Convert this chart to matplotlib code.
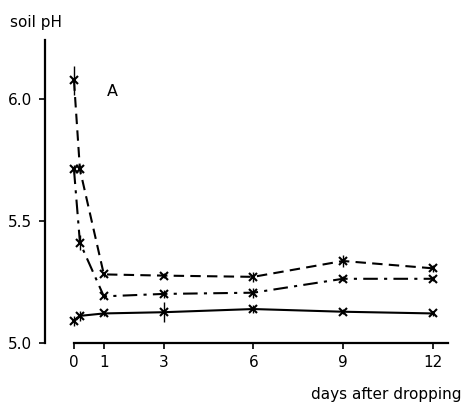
import numpy as np
import matplotlib.pyplot as plt

# sampling days (second point = a few hours after dropping)
days = [0, 0.2, 1, 3, 6, 9, 12]

# soil pH, three treatments
ph_dashed = [6.075, 5.71, 5.28, 5.275, 5.27, 5.335, 5.305]
ph_dashdot = [5.71, 5.41, 5.19, 5.20, 5.205, 5.262, 5.262]
ph_solid = [5.09, 5.11, 5.12, 5.125, 5.138, 5.127, 5.12]

# small error bars seen on the scan
err_dashed = [0.06, 0.02, 0.01, 0.01, 0.02, 0.025, 0.015]
err_dashdot = [0.02, 0.03, 0.01, 0.015, 0.02, 0.01, 0.01]
err_solid = [0.02, 0.02, 0.01, 0.04, 0.015, 0.01, 0.01]

xticks = [0, 1, 3, 6, 9, 12]
yticks = [5.0, 5.5, 6.0]

plt.rcParams['font.family'] = 'DejaVu Sans'
fig = plt.figure(figsize=(4.64, 4.05), dpi=100)
ax = fig.add_axes([0.095, 0.1538, 0.876, 0.753])

for y, e, ls in [(ph_dashed, err_dashed, (0, (5, 3))),
                 (ph_dashdot, err_dashdot, (0, (7, 3, 1.5, 3))),
                 (ph_solid, err_solid, '-')]:
    ax.errorbar(days, y, yerr=e, color='black', linestyle=ls, linewidth=1.5,
                marker='x', markersize=5.5, markeredgewidth=1.5,
                elinewidth=1.0, capsize=0)

ax.set_xlim(-1.0, 12.6)
ax.set_ylim(5.0, 6.25)

ax.spines['top'].set_visible(False)
ax.spines['right'].set_visible(False)
ax.spines['left'].set_position(('data', -0.97))
ax.spines['left'].set_bounds(5.0, 6.24)
ax.spines['bottom'].set_bounds(0, 12.5)
ax.spines['left'].set_linewidth(1.6)
ax.spines['bottom'].set_linewidth(1.6)

ax.set_xticks(xticks)
ax.set_xticklabels([str(t) for t in xticks])
ax.set_yticks(yticks)
ax.set_yticklabels(['%.1f' % t for t in yticks])
ax.tick_params(direction='out', length=4, width=1.2, labelsize=11, pad=5)

ax.text(1.3, 6.03, 'A', fontsize=11.5, ha='center', va='center')
fig.text(10 / 464, 1 - 23 / 405, 'soil pH', fontsize=11, ha='left', va='center')
fig.text(462 / 464, 1 - 395 / 405, 'days after dropping', fontsize=11,
         ha='right', va='center')

fig.savefig('out.png', dpi=100)
